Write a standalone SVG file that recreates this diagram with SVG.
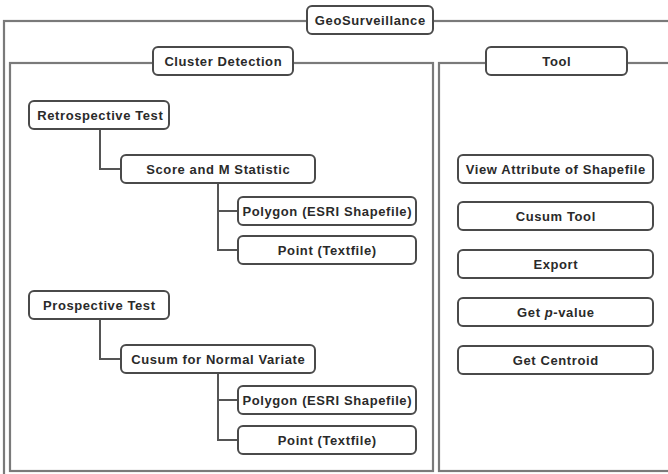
<svg xmlns="http://www.w3.org/2000/svg" width="668" height="474" viewBox="0 0 668 474">
<style>
.frame{fill:none;stroke:#7a7a7a;stroke-width:2.2}
.box{fill:#fff;stroke:#4a4a4a;stroke-width:2}
.conn{fill:none;stroke:#555;stroke-width:2}
text{font-family:"Liberation Sans",Arial,sans-serif;font-weight:bold;font-size:13px;letter-spacing:0.6px;fill:#2a2a2a;text-anchor:middle;dominant-baseline:central}
</style>
<rect width="668" height="474" fill="#fff"/>
<g id="frames">
<rect class="frame" x="4" y="21" width="720" height="520"/>
<rect class="frame" x="10" y="63" width="423" height="408"/>
<rect class="frame" x="439" y="63" width="260" height="408"/>
</g>
<g id="connectors">
<path class="conn" d="M100 129V169H121"/>
<path class="conn" d="M218 183V211H238M218 211V250H238"/>
<path class="conn" d="M100 319V359H121"/>
<path class="conn" d="M218 373V400H238M218 400V440H238"/>
</g>
<g id="geosurveillance"><rect class="box" x="307" y="6" width="126" height="28" rx="5"/><text x="370.3" y="20">GeoSurveillance</text></g>
<g id="cluster-detection"><rect class="box" x="153" y="47" width="140" height="28" rx="5"/><text x="223.3" y="61">Cluster Detection</text></g>
<g id="tool"><rect class="box" x="486" y="47" width="141" height="28" rx="5"/><text x="556.8" y="61">Tool</text></g>
<g id="retrospective-test"><rect class="box" x="29" y="101" width="140" height="28" rx="5"/><text x="100.3" y="115">Retrospective Test</text></g>
<g id="score-m-statistic"><rect class="box" x="121" y="155" width="194" height="28" rx="5"/><text x="218.3" y="169">Score and M Statistic</text></g>
<g id="polygon-1"><rect class="box" x="238" y="197" width="178" height="28" rx="5"/><text x="327.3" y="211">Polygon (ESRI Shapefile)</text></g>
<g id="point-1"><rect class="box" x="238" y="236" width="178" height="28" rx="5"/><text x="327.3" y="250">Point (Textfile)</text></g>
<g id="prospective-test"><rect class="box" x="29" y="291" width="140" height="28" rx="5"/><text x="99.3" y="305">Prospective Test</text></g>
<g id="cusum-normal-variate"><rect class="box" x="121" y="345" width="194" height="28" rx="5"/><text x="218.3" y="359">Cusum for Normal Variate</text></g>
<g id="polygon-2"><rect class="box" x="238" y="386" width="178" height="28" rx="5"/><text x="327.3" y="400">Polygon (ESRI Shapefile)</text></g>
<g id="point-2"><rect class="box" x="238" y="426" width="178" height="28" rx="5"/><text x="327.3" y="440">Point (Textfile)</text></g>
<g id="view-attribute"><rect class="box" x="458" y="155" width="195" height="28" rx="5"/><text x="555.8" y="169">View Attribute of Shapefile</text></g>
<g id="cusum-tool"><rect class="box" x="458" y="202" width="195" height="28" rx="5"/><text x="555.8" y="216">Cusum Tool</text></g>
<g id="export"><rect class="box" x="458" y="250" width="195" height="28" rx="5"/><text x="555.8" y="264">Export</text></g>
<g id="get-p-value"><rect class="box" x="458" y="298" width="195" height="28" rx="5"/><text x="555.8" y="312">Get <tspan font-style="italic">p</tspan>-value</text></g>
<g id="get-centroid"><rect class="box" x="458" y="346" width="195" height="28" rx="5"/><text x="555.8" y="360">Get Centroid</text></g>
</svg>
